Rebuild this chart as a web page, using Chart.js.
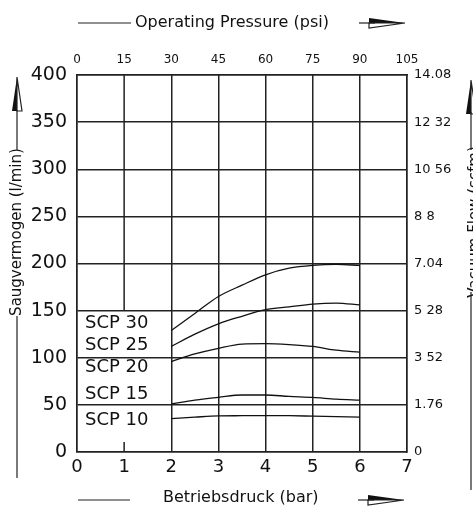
<!DOCTYPE html>
<html>
<head>
<meta charset="utf-8">
<script src="https://cdn.jsdelivr.net/npm/chart.js@4"></script>
<style>
  html, body { margin: 0; padding: 0; background: #fff; }
  #wrap { width: 473px; height: 514px; position: relative; }
</style>
</head>
<body>
<div id="wrap"><canvas id="c"></canvas></div>
<script>
'use strict';

// ── Data ─────────────────────────────────────────────────────────────────────
const pressureBar = [2, 2.5, 3, 3.5, 4, 4.5, 5, 5.5, 6];
const scp30 = [129, 147, 165, 177, 188, 195, 198, 199, 198];
const scp25 = [112, 125, 136, 144, 151, 154, 157, 158, 156];
const scp20 = [96, 104, 110, 114.5, 115, 114, 112, 108, 106];
const scp15 = [51, 55, 58, 60.5, 60.5, 59, 58, 56, 55];
const scp10 = [35.5, 37, 38.3, 38.5, 38.7, 38.5, 38, 37.5, 37];

const seriesNames  = ['SCP 30', 'SCP 25', 'SCP 20', 'SCP 15', 'SCP 10'];
const labelLevels  = [136, 113, 90, 61, 34];   // where the names sit (l/min)

const barTicks  = ['0', '1', '2', '3', '4', '5', '6', '7'];
const psiTicks  = ['0', '15', '30', '45', '60', '75', '90', '105'];
const flowTicks = ['0', '50', '100', '150', '200', '250', '300', '350', '400'];
const scfmTicks = ['0', '1.76', '3 52', '5 28', '7.04', '8 8', '10 56', '12 32', '14.08'];

// ── Styling ──────────────────────────────────────────────────────────────────
const FONT = "'DejaVu Sans', sans-serif";
const INK  = '#111';
const GRID = '#222';

const mkSet = data => ({
  data: data.map((y, i) => ({ x: pressureBar[i], y })),
  borderColor: INK, borderWidth: 1.3, pointRadius: 0,
  tension: 0.4, cubicInterpolationMode: 'monotone', fill: false,
});

// ── Decorations: titles, arrows, series names, the short x=1 gridline ───────
function arrowRight(ctx, x, y) {
  // line through, filled upper half, hollow lower half
  ctx.beginPath(); ctx.moveTo(x, y); ctx.lineTo(x + 16, y); ctx.stroke();
  ctx.beginPath();
  ctx.moveTo(x + 10, y - 5); ctx.lineTo(x + 46, y); ctx.lineTo(x + 10, y); ctx.closePath();
  ctx.fill();
  ctx.beginPath();
  ctx.moveTo(x + 10, y); ctx.lineTo(x + 46, y); ctx.lineTo(x + 10, y + 5); ctx.closePath();
  ctx.stroke();
}

function arrowUp(ctx, x, y) {
  ctx.beginPath();
  ctx.moveTo(x - 5, y + 34); ctx.lineTo(x, y); ctx.lineTo(x, y + 34); ctx.closePath();
  ctx.fill();
  ctx.beginPath();
  ctx.moveTo(x, y + 34); ctx.lineTo(x, y); ctx.lineTo(x + 5, y + 34); ctx.closePath();
  ctx.stroke();
}

const deco = {
  id: 'deco',
  afterDraw(chart) {
    const { ctx, scales } = chart;
    const xs = scales.x, ys = scales.y;
    ctx.save();
    ctx.strokeStyle = GRID; ctx.fillStyle = INK; ctx.lineWidth = 1.5;

    // x = 1 gridline only above 150, plus a short tick at the bottom
    const x1 = xs.getPixelForValue(1);
    ctx.beginPath();
    ctx.moveTo(x1, ys.getPixelForValue(400)); ctx.lineTo(x1, ys.getPixelForValue(150));
    ctx.moveTo(x1, ys.getPixelForValue(0)); ctx.lineTo(x1, ys.getPixelForValue(0) - 10);
    ctx.stroke();

    // series names in the left cells
    ctx.font = '18px ' + FONT;
    ctx.textBaseline = 'middle'; ctx.textAlign = 'left';
    seriesNames.forEach((n, i) =>
      ctx.fillText(n, xs.getPixelForValue(0) + 8, ys.getPixelForValue(labelLevels[i])));

    // top title
    ctx.lineWidth = 1.2;
    ctx.font = '16px ' + FONT;
    ctx.beginPath(); ctx.moveTo(78, 23); ctx.lineTo(131, 23); ctx.stroke();
    ctx.fillText('Operating Pressure (psi)', 135, 23);
    arrowRight(ctx, 359, 23);

    // bottom title
    ctx.beginPath(); ctx.moveTo(78, 500); ctx.lineTo(130, 500); ctx.stroke();
    ctx.fillText('Betriebsdruck (bar)', 163, 498);
    arrowRight(ctx, 358, 500);

    // left title
    ctx.font = '15px ' + FONT;
    ctx.save();
    ctx.translate(17, 232); ctx.rotate(-Math.PI / 2);
    ctx.textAlign = 'center';
    ctx.fillText('Saugvermogen (l/min)', 0, 0);
    ctx.restore();
    ctx.beginPath();
    ctx.moveTo(17, 110); ctx.lineTo(17, 150);
    ctx.moveTo(17, 316); ctx.lineTo(17, 478);
    ctx.stroke();
    arrowUp(ctx, 17, 77);

    // right title (runs off the edge like the original)
    ctx.save();
    ctx.translate(475, 222); ctx.rotate(-Math.PI / 2);
    ctx.textAlign = 'center';
    ctx.fillText('Vacuum Flow (scfm)', 0, 0);
    ctx.restore();
    ctx.beginPath();
    ctx.moveTo(471, 112); ctx.lineTo(471, 150);
    ctx.moveTo(471, 292); ctx.lineTo(471, 490);
    ctx.stroke();
    arrowUp(ctx, 471, 80);

    ctx.restore();
  },
};

// ── Chart ────────────────────────────────────────────────────────────────────
new Chart(document.getElementById('c'), {
  type: 'line',
  data: { datasets: [scp30, scp25, scp20, scp15, scp10].map(mkSet) },
  options: {
    responsive: true, maintainAspectRatio: false, animation: false,
    layout: { padding: 0 },
    plugins: { legend: { display: false }, tooltip: { enabled: false } },
    scales: {
      x: {
        type: 'linear', position: 'bottom', min: 0, max: 7,
        afterFit: s => { s.height = 62; },
        ticks: { stepSize: 1, padding: 5, color: INK, font: { family: FONT, size: 18 },
                 callback: v => barTicks[v] },
        grid: { drawTicks: false, lineWidth: 1.5,
                color: c => (c.tick && c.tick.value === 1 ? 'rgba(0,0,0,0)' : GRID) },
        border: { color: GRID, width: 1.5 },
      },
      x2: {
        type: 'linear', position: 'top', min: 0, max: 7,
        afterFit: s => { s.height = 75; },
        ticks: { stepSize: 1, padding: 8, color: INK, font: { family: FONT, size: 12 },
                 callback: v => psiTicks[v] },
        grid: { display: false, drawTicks: false },
        border: { color: GRID, width: 1.5 },
      },
      y: {
        type: 'linear', position: 'left', min: 0, max: 400,
        afterFit: s => { s.width = 77; },
        ticks: { stepSize: 50, padding: 10, color: INK, font: { family: FONT, size: 19 },
                 callback: v => flowTicks[v / 50] },
        grid: { drawTicks: false, color: GRID, lineWidth: 1.5 },
        border: { color: GRID, width: 1.5 },
      },
      y2: {
        type: 'linear', position: 'right', min: 0, max: 400,
        afterFit: s => { s.width = 66; },
        ticks: { stepSize: 50, padding: 7, color: INK, font: { family: FONT, size: 13 },
                 callback: v => scfmTicks[v / 50] },
        grid: { display: false, drawTicks: false },
        border: { color: GRID, width: 1.5 },
      },
    },
  },
  plugins: [deco],
});
</script>
</body>
</html>
